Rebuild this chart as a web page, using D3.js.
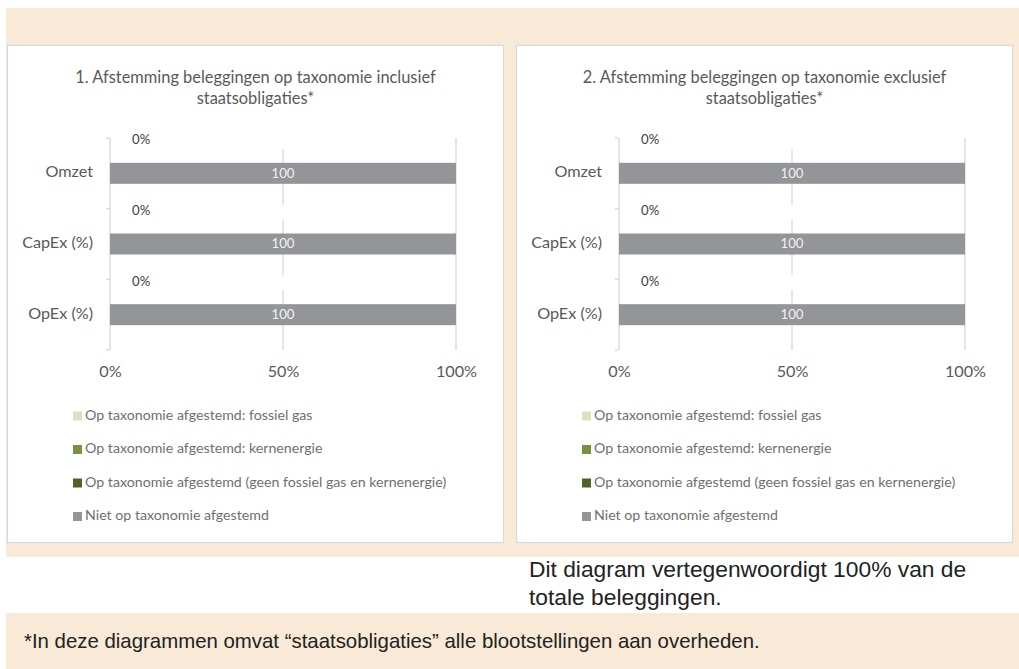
<!DOCTYPE html>
<html>
<head>
<meta charset="utf-8">
<script src="https://cdn.jsdelivr.net/npm/d3@7/dist/d3.min.js"></script>
<style>
  html, body { margin: 0; padding: 0; background: #ffffff; }
  svg { display: block; }
</style>
</head>
<body>
<svg id="chart" width="1019" height="669"></svg>
<script>
// Categories (bar rows) and tick values
const categories = ["Omzet", "CapEx (%)", "OpEx (%)"];
const xTickValues = [0, 50, 100];

// Series names and colours, in stacking order
const seriesNames = [
  "Op taxonomie afgestemd: fossiel gas",
  "Op taxonomie afgestemd: kernenergie",
  "Op taxonomie afgestemd (geen fossiel gas en kernenergie)",
  "Niet op taxonomie afgestemd"
];
const seriesColors = ["#d7e4bd", "#77933c", "#4f6228", "#939598"];

// Chart 1: inclusief staatsobligaties (values in %)
const fossielGas1 = [0, 0, 0];
const kernenergie1 = [0, 0, 0];
const overigAfgestemd1 = [0, 0, 0];
const nietAfgestemd1 = [100, 100, 100];

// Chart 2: exclusief staatsobligaties (values in %)
const fossielGas2 = [0, 0, 0];
const kernenergie2 = [0, 0, 0];
const overigAfgestemd2 = [0, 0, 0];
const nietAfgestemd2 = [100, 100, 100];

const titles1 = ["1. Afstemming beleggingen op taxonomie inclusief", "staatsobligaties*"];
const titles2 = ["2. Afstemming beleggingen op taxonomie exclusief", "staatsobligaties*"];

const FONT = "Lato, 'Open Sans', sans-serif";
const TEXT_GREY = "#595959";
const GRID = "#d9d9d9";
const BEIGE = "#f9e9d7";

const svg = d3.select("#chart");

// Background boxes
svg.append("rect").attr("x", 6).attr("y", 8).attr("width", 1013).attr("height", 549).attr("fill", BEIGE);
svg.append("rect").attr("x", 6).attr("y", 613).attr("width", 1013).attr("height", 56).attr("fill", BEIGE);

function drawPanel(left, titleLines, seriesArrays) {
  const g = svg.append("g").attr("transform", `translate(${left},0)`);

  // Panel card
  g.append("rect")
    .attr("x", 0.5).attr("y", 45.5).attr("width", 496).attr("height", 497)
    .attr("fill", "#ffffff").attr("stroke", "#d6d9de").attr("stroke-width", 1.2);

  // Title
  g.append("text")
    .attr("x", 248.5).attr("y", 83)
    .attr("text-anchor", "middle")
    .attr("font-family", FONT).attr("font-size", 16.4).attr("fill", TEXT_GREY)
    .selectAll("tspan").data(titleLines).join("tspan")
    .attr("x", 248.5).attr("dy", (d, i) => i === 0 ? 0 : 21)
    .text(d => d);

  const x = d3.scaleLinear().domain([0, 100]).range([103, 449]);
  const y = d3.scaleBand().domain(categories).range([138, 350]).padding(0);
  const barH = 21;

  // Rows for stacking
  const rows = categories.map((c, i) => {
    const r = { cat: c };
    seriesNames.forEach((s, k) => { r[s] = seriesArrays[k][i]; });
    return r;
  });
  const stacked = d3.stack().keys(seriesNames)(rows);

  // Vertical gridlines
  g.append("g").selectAll("line").data(xTickValues.filter(v => v > 0)).join("line")
    .attr("x1", d => x(d)).attr("x2", d => x(d))
    .attr("y1", y.range()[0]).attr("y2", y.range()[1])
    .attr("stroke", GRID).attr("stroke-width", 1.3);

  // Category axis with ticks at band boundaries
  const yAxis = g.append("g").attr("transform", `translate(${x(0)},0)`);
  yAxis.append("line")
    .attr("y1", y.range()[0]).attr("y2", y.range()[1])
    .attr("stroke", GRID).attr("stroke-width", 1.3);
  const bounds = categories.map(c => y(c)).concat([y.range()[1]]);
  yAxis.selectAll("line.tick").data(bounds).join("line").attr("class", "tick")
    .attr("x1", -4).attr("x2", 0).attr("y1", d => d).attr("y2", d => d)
    .attr("stroke", GRID).attr("stroke-width", 1.3);
  yAxis.selectAll("text").data(categories).join("text")
    .attr("x", -17).attr("y", d => y(d) + y.bandwidth() / 2)
    .attr("text-anchor", "end").attr("dominant-baseline", "middle")
    .attr("font-family", FONT).attr("font-size", 16.2).attr("fill", TEXT_GREY)
    .text(d => d);

  // X axis labels
  const xAxis = d3.axisBottom(x).tickValues(xTickValues).tickSize(0).tickFormat(d => d + "%");
  const xa = g.append("g").attr("transform", `translate(0,${y.range()[1]})`).call(xAxis);
  xa.select(".domain").remove();
  xa.selectAll("text")
    .attr("y", 23).attr("dy", null).attr("dominant-baseline", "middle")
    .attr("font-family", FONT).attr("font-size", 16.2).attr("fill", TEXT_GREY);

  // Aligned share labels (sum of the three aligned series), shown above each bar
  const alignedTotals = categories.map((c, i) => seriesArrays[0][i] + seriesArrays[1][i] + seriesArrays[2][i]);
  const lbl = g.append("g");
  lbl.selectAll("rect").data(categories).join("rect")
    .attr("x", x(0) + 12).attr("width", x(50) + 6 - (x(0) + 12))
    .attr("y", d => y(d) - 4).attr("height", 15)
    .attr("fill", "#ffffff");
  lbl.selectAll("text").data(categories).join("text")
    .attr("x", x(0) + 22).attr("y", d => y(d) + 3)
    .attr("dominant-baseline", "middle")
    .attr("font-family", FONT).attr("font-size", 13.2).attr("fill", "#404040")
    .text((d, i) => alignedTotals[i] + "%");

  // Stacked bars
  const bars = g.append("g");
  stacked.forEach((layer, k) => {
    bars.append("g").attr("fill", seriesColors[k])
      .selectAll("rect").data(layer).join("rect")
      .attr("x", d => x(d[0]))
      .attr("width", d => Math.max(0, x(d[1]) - x(d[0])))
      .attr("y", d => y(d.data.cat) + (y.bandwidth() - barH) / 2)
      .attr("height", barH);
  });

  // Value labels on the non-aligned bar
  const last = stacked[stacked.length - 1];
  g.append("g").selectAll("text").data(last).join("text")
    .attr("x", d => (x(d[0]) + x(d[1])) / 2)
    .attr("y", d => y(d.data.cat) + y.bandwidth() / 2 + 1)
    .attr("text-anchor", "middle").attr("dominant-baseline", "middle")
    .attr("font-family", FONT).attr("font-size", 13.2).attr("fill", "#f2f2f2")
    .text(d => d[1] - d[0]);

  // Legend
  const leg = g.append("g").selectAll("g").data(seriesNames).join("g")
    .attr("transform", (d, i) => `translate(66,${416 + i * 33.5})`);
  leg.append("rect").attr("x", 0).attr("y", -4.5).attr("width", 9).attr("height", 9)
    .attr("fill", (d, i) => seriesColors[i]);
  leg.append("text").attr("x", 12).attr("y", 0)
    .attr("dominant-baseline", "middle")
    .attr("font-family", FONT).attr("font-size", 14.2).attr("fill", "#6f6f6f")
    .text(d => d);
}

drawPanel(7, titles1, [fossielGas1, kernenergie1, overigAfgestemd1, nietAfgestemd1]);
drawPanel(516, titles2, [fossielGas2, kernenergie2, overigAfgestemd2, nietAfgestemd2]);

// Notes below the charts
const NOTE_FONT = "'Liberation Sans', Arial, sans-serif";
svg.append("text")
  .attr("font-family", NOTE_FONT).attr("font-size", 22.8).attr("fill", "#222222")
  .selectAll("tspan").data(["Dit diagram vertegenwoordigt 100% van de", "totale beleggingen."]).join("tspan")
  .attr("x", 529).attr("y", (d, i) => 577 + i * 28)
  .text(d => d);

svg.append("text")
  .attr("x", 24).attr("y", 648)
  .attr("font-family", NOTE_FONT).attr("font-size", 20.4).attr("fill", "#222222")
  .text("*In deze diagrammen omvat \u201cstaatsobligaties\u201d alle blootstellingen aan overheden.");
</script>
</body>
</html>
